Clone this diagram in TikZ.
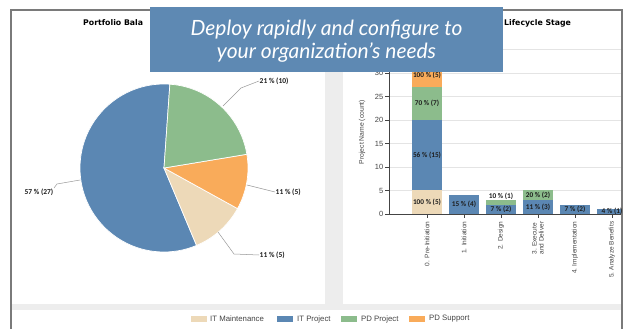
\documentclass[tikz,border=0pt]{standalone}
\usepackage{fontspec}
\setmainfont{Carlito}
\newfontfamily\bannerfont{Lato}
\newfontfamily\arialfont{Liberation Sans}
\newfontfamily\titlefont{DejaVu Sans}
\definecolor{pieblue}{HTML}{5B87B3}
\definecolor{piegreen}{HTML}{8CBC8C}
\definecolor{pieorange}{HTML}{F9AB5A}
\definecolor{piebeige}{HTML}{EDD9B8}
\definecolor{bannerblue}{HTML}{5E89B3}
\definecolor{framegray}{HTML}{7A7A7A}
\definecolor{bandgray}{HTML}{EDEDED}
\definecolor{gridgray}{HTML}{E4E4E4}
\definecolor{labeltext}{HTML}{1E1E1E}
\definecolor{axistext}{HTML}{444444}
\tikzset{
  slice/.style={draw=white, line width=0.7pt},
  leader/.style={draw=gray!80, line width=0.5pt},
  datalbl/.style={font=\fontsize{7.5}{8}\selectfont\bfseries, text=labeltext, inner sep=0.5pt},
  barlbl/.style={font=\fontsize{7.3}{8}\selectfont\bfseries, text=labeltext, inner sep=0pt},
  ticklbl/.style={font=\arialfont\fontsize{7.5}{8}\selectfont, text=axistext, anchor=east, inner sep=0.5pt},
  xlbl/.style={font=\arialfont\fontsize{6.5}{7}\selectfont, text=axistext, rotate=90, anchor=east, align=left, inner sep=0.5pt},
  legtext/.style={font=\arialfont\fontsize{7.8}{8}\selectfont, text=axistext, anchor=west, inner sep=0pt},
  titletext/.style={font=\titlefont\fontsize{7.8}{9}\selectfont\bfseries, text=black, inner sep=0pt},
  swatch/.style={minimum width=16pt, minimum height=6pt, inner sep=0pt},
}
\begin{document}
\begin{tikzpicture}[x=1pt,y=-1pt]
\useasboundingbox (0,0) rectangle (625,329);
\fill[white] (0,0) rectangle (625,329);
% panel bands
\fill[bandgray] (325,11) rectangle (343,304);
\fill[bandgray] (12,304) rectangle (621,310);
% outer frame
\draw[framegray, line width=2pt] (11,329) -- (11,10) -- (622,10) -- (622,329);

% ---------- pie ----------
\node[titletext, anchor=west] (ptitle) at (83,23) {Portfolio Bala};
\begin{scope}[shift={(164,168)}, yscale=-1]
  \fill[pieblue, slice] (0,0) -- (86:84) arc[start angle=86, end angle=292.8, radius=84] -- cycle;
  \fill[piebeige, slice] (0,0) -- (292.8:84) arc[start angle=292.8, end angle=331.1, radius=84] -- cycle;
  \fill[pieorange, slice] (0,0) -- (331.1:84) arc[start angle=331.1, end angle=369.4, radius=84] -- cycle;
  \fill[piegreen, slice] (0,0) -- (9.4:84) arc[start angle=9.4, end angle=86, radius=84] -- cycle;
\end{scope}
\node[datalbl, anchor=west] (lgreen) at (259,81) {21 \% (10)};
\node[datalbl, anchor=west] (lorange) at (275,192) {11 \% (5)};
\node[datalbl, anchor=west] (lbeige) at (259,255) {11 \% (5)};
\node[datalbl, anchor=east] (lblue) at (54,192) {57 \% (27)};
\coordinate (egreen) at (223,106);
\coordinate (eorange) at (247,185);
\coordinate (ebeige) at (218,232);
\coordinate (eblue) at (80,180);
\draw[leader] (egreen) -- (241,88) -- (lgreen.west);
\draw[leader] (eorange) -- (lorange.west);
\draw[leader] (ebeige) -- (234,254) -- (lbeige.west);
\draw[leader] (eblue) -- (57,184) -- (lblue.north east);

% ---------- bar chart ----------
\node[titletext, anchor=west] (btitle) at (504,23) {Lifecycle Stage};
\begin{scope}
\clip (343,11) rectangle (621,304);
\foreach \v in {5,10,...,35} {
  \draw[gridgray, line width=0.6pt] (389,214-4.7*\v) -- (621,214-4.7*\v);
}
% bar 0
\fill[piebeige] (412,214) rectangle (442,214-4.7*5);
\fill[pieblue] (412,214-4.7*5) rectangle (442,214-4.7*20);
\fill[piegreen] (412,214-4.7*20) rectangle (442,214-4.7*27);
\fill[pieorange] (412,214-4.7*27) rectangle (442,214-4.7*32);
% bar 1
\fill[pieblue] (449,214) rectangle (479,214-4.7*4);
% bar 2
\fill[pieblue] (486,214) rectangle (516,214-4.7*2);
\fill[piegreen] (486,214-4.7*2) rectangle (516,214-4.7*3);
% bar 3
\fill[pieblue] (523,214) rectangle (553,214-4.7*3);
\fill[piegreen] (523,214-4.7*3) rectangle (553,214-4.7*5);
% bar 4
\fill[pieblue] (560,214) rectangle (590,214-4.7*2);
% bar 5
\fill[pieblue] (597,214) rectangle (627,214-4.7*1);
% bar labels
\node[barlbl] (b0a) at (427,202) {100 \% (5)};
\node[barlbl] (b0b) at (427,155) {56 \% (15)};
\node[barlbl] (b0c) at (427,103) {70 \% (7)};
\node[barlbl] (b0d) at (427,75) {100 \% (5)};
\node[barlbl] (b1a) at (464,204.6) {15 \% (4)};
\node[barlbl] (b2a) at (501,209.3) {7 \% (2)};
\node[barlbl] (b2b) at (501,196) {10 \% (1)};
\node[barlbl] (b3a) at (538,207) {11 \% (3)};
\node[barlbl] (b3b) at (538,195) {20 \% (2)};
\node[barlbl] (b4a) at (575,209.3) {7 \% (2)};
\node[barlbl] (b5a) at (612,211.6) {4 \% (1)};
\end{scope}
% axes
\draw[axistext, line width=0.8pt] (389,214) -- (389,49);
\draw[axistext, line width=0.8pt] (389,214) -- (621,214);
\foreach \v in {0,5,...,30} {
  \draw[axistext, line width=0.6pt] (385,214-4.7*\v) -- (389,214-4.7*\v);
  \node[ticklbl] at (384,214-4.7*\v) {\v};
}
\foreach \c in {427,464,501,538,575,612} {
  \draw[axistext, line width=0.6pt] (\c,214) -- (\c,218);
}
\node[font=\arialfont\fontsize{6.8}{7}\selectfont, text=axistext, rotate=90, inner sep=0pt] (ytitle) at (362,132) {Project Name (count)};
\node[xlbl] (x0) at (427,221) {0. Pre-Initiation};
\node[xlbl] (x1) at (464,221) {1. Initiation};
\node[xlbl] (x2) at (501,221) {2. Design};
\node[xlbl] (x3) at (538,221) {3. Execute\\and Deliver};
\node[xlbl] (x4) at (575,221) {4. Implementation};
\node[xlbl] (x5) at (612,221) {5. Analyze Benefits};

% ---------- legend ----------
\node[swatch, fill=piebeige] (s1) at (198.5,319) {};
\node[legtext] (t1) at (210,319) {IT Maintenance};
\node[swatch, fill=pieblue] (s2) at (285,319) {};
\node[legtext] (t2) at (297,319) {IT Project};
\node[swatch, fill=piegreen] (s3) at (349,319) {};
\node[legtext] (t3) at (361,319) {PD Project};
\node[swatch, fill=pieorange] (s4) at (417,319) {};
\node[legtext] (t4) at (429,319) {PD Support};

% ---------- banner ----------
\fill[bannerblue] (150,7) rectangle (503,72);
\node[font=\bannerfont\itshape\fontsize{21}{23.5}\selectfont, text=white, align=center, inner sep=0pt] (banner) at (326.5,41) {Deploy rapidly and configure to\\your organization’s needs};
\end{tikzpicture}
\end{document}
